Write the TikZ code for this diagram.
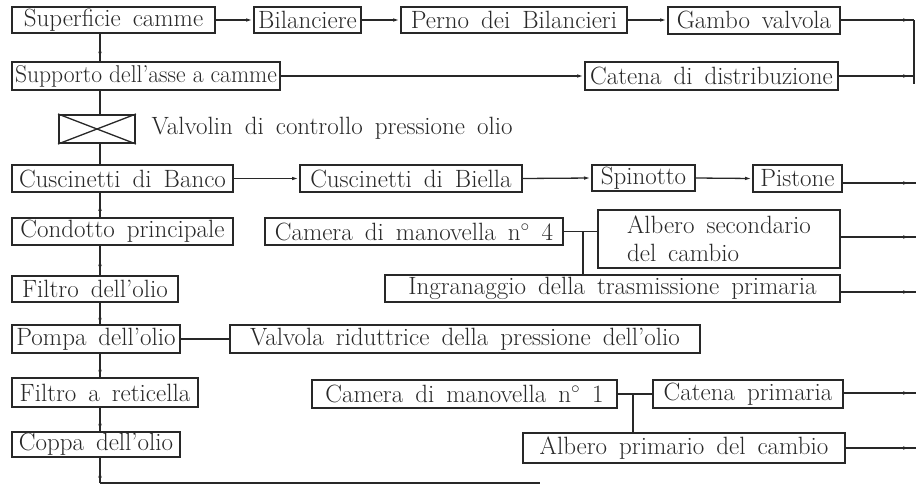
\documentclass[tikz,border=0pt]{standalone}
\usepackage{graphicx}
\usetikzlibrary{arrows.meta,decorations.markings}
\definecolor{ink}{RGB}{40,40,40}
\newcommand\diagfont{\fontsize{25}{28}\selectfont\spaceskip=0.48em plus 0.1em minus 0.1em\relax}
\newsavebox\fitbox
\newcommand\fitw[2]{\sbox\fitbox{#2}%
  \ifdim\wd\fitbox>#1\relax
    \sbox\fitbox{\spaceskip=0.3em\relax#2}%
    \ifdim\wd\fitbox>#1\relax
      \pgfmathsetmacro\fitr{(1+(#1)/\wd\fitbox)/2}%
      \resizebox{#1}{\fitr\height}{\usebox\fitbox}%
    \else\usebox\fitbox\fi
  \else\usebox\fitbox\fi}
\begin{document}
\begin{tikzpicture}[x=1pt,y=-1pt,
  every node/.style={font={\diagfont}, text=ink},
  box/.style={draw=ink, line width=2pt, inner sep=0pt, align=center},
  conn/.style={draw=ink, line width=1.3pt},
  tip/.style={-{Latex[length=7pt,width=3.5pt]}},
  arrowat/.style={postaction={decorate}, decoration={markings, mark=at position #1 with {\arrow{Latex[length=7pt,width=3.5pt]}}}}
]
\useasboundingbox (0,0) rectangle (916,485);

% left column
\node[box, minimum width=203, minimum height=26] (sup) at (113.5,20) {\fitw{195pt}{Superficie camme}};
\node[box, minimum width=268, minimum height=28] (supp) at (146,76) {\fitw{262pt}{Supporto dell'asse a camme}};
\node[draw=ink, line width=2pt, minimum width=76, minimum height=28, inner sep=0pt] (valve) at (97,129) {};
\node[anchor=west] (vlab) at (148,128) {Valvolin di controllo pressione olio};
\node[box, minimum width=221, minimum height=27] (banco) at (122.5,178.5) {\fitw{213pt}{Cuscinetti di Banco}};
\node[box, minimum width=221, minimum height=27] (cond) at (122.5,231.5) {\fitw{213pt}{Condotto principale}};
\node[box, minimum width=166, minimum height=26] (filtro) at (95,289) {\fitw{158pt}{Filtro dell'olio}};
\node[box, minimum width=168, minimum height=28] (pompa) at (96,339) {\fitw{160pt}{Pompa dell'olio}};
\node[box, minimum width=186, minimum height=29] (ret) at (105,392.5) {\fitw{178pt}{Filtro a reticella}};
\node[box, minimum width=168, minimum height=25] (coppa) at (96,444.5) {\fitw{160pt}{Coppa dell'olio}};

% top row
\node[box, minimum width=107, minimum height=26] (bil) at (307.5,20) {\fitw{101pt}{Bilanciere}};
\node[box, minimum width=226, minimum height=26] (perno) at (514,20) {\fitw{218pt}{Perno dei Bilancieri}};
\node[box, minimum width=172, minimum height=27] (gambo) at (754,20) {\fitw{164pt}{Gambo valvola}};
\node[box, minimum width=253, minimum height=28] (catd) at (711.5,76) {\fitw{245pt}{Catena di distribuzione}};

% crank row
\node[box, minimum width=222, minimum height=27] (biella) at (411,178.5) {\fitw{214pt}{Cuscinetti di Biella}};
\node[box, minimum width=103, minimum height=26] (spin) at (643.5,178) {\fitw{96pt}{Spinotto}};
\node[box, minimum width=89, minimum height=27] (pist) at (797.5,178.5) {\fitw{83pt}{Pistone}};

\node[box, minimum width=298, minimum height=27] (cam4) at (414,231.5) {\fitw{290pt}{Camera di manovella n$^\circ$ 4}};
\node[box, minimum width=242, minimum height=58, align=left] (albsec) at (719,239) {Albero secondario\\del cambio};
\node[box, minimum width=455, minimum height=27] (ingr) at (612.5,288.5) {\fitw{445pt}{Ingranaggio della trasmissione primaria}};

\node[box, minimum width=470, minimum height=28] (vrid) at (465,339) {\fitw{460pt}{Valvola riduttrice della pressione dell'olio}};

\node[box, minimum width=305, minimum height=28] (cam1) at (464.5,394) {\fitw{297pt}{Camera di manovella n$^\circ$ 1}};
\node[box, minimum width=190, minimum height=28] (catp) at (748,394) {\fitw{182pt}{Catena primaria}};
\node[box, minimum width=322, minimum height=30] (albp) at (684,448) {\fitw{314pt}{Albero primario del cambio}};

% valve cross
\draw[conn] (valve.north west) -- (valve.south east) (valve.south west) -- (valve.north east);

% coordinates
\coordinate (vx) at (100,0);
\coordinate (bot) at (100,483);
\coordinate (botend) at (540,483);
\coordinate (r0) at (914,20);
\coordinate (r0b) at (914,84);
\coordinate (r1) at (914,76);
\coordinate (r2) at (916,183);
\coordinate (r3) at (916,237);
\coordinate (r4) at (916,292);
\coordinate (r5) at (916,393);
\coordinate (r6) at (916,448);
\coordinate (j4) at (583,231.5);
\coordinate (j1) at (633,394);

% main vertical (flow upward)
\draw[conn] (bot) -- (botend);
\draw[conn, arrowat=0.5] (bot) -- (vx |- coppa.south);
\draw[conn, arrowat=0.55] (vx |- coppa.north) -- (vx |- ret.south);
\draw[conn, arrowat=0.55] (vx |- ret.north) -- (vx |- pompa.south);
\draw[conn, arrowat=0.55] (vx |- pompa.north) -- (vx |- filtro.south);
\draw[conn, arrowat=0.55] (vx |- filtro.north) -- (vx |- cond.south);
\draw[conn, arrowat=0.55] (vx |- cond.north) -- (vx |- banco.south);
\draw[conn] (vx |- banco.north) -- (vx |- valve.south);
\draw[conn] (vx |- valve.north) -- (vx |- supp.south);
\draw[conn, arrowat=0.55] (vx |- supp.north) -- (vx |- sup.south);

% horizontal connectors
\draw[conn, tip] (sup.east) -- (bil.west);
\draw[conn, tip] (bil.east) -- (perno.west);
\draw[conn, tip] (perno.east) -- (gambo.west);
\draw[conn, arrowat=-4pt] (gambo.east) -- (r0);
\draw[conn] (r0) -- (r0b);
\draw[conn, tip] (supp.east) -- (catd.west);
\draw[conn, arrowat=-4pt] (catd.east) -- (r1);

\draw[conn, tip] (banco.east) -- (biella.west);
\draw[conn, tip] (biella.east) -- (spin.west);
\draw[conn, tip] (spin.east) -- (pist.west);
\draw[conn, arrowat=-6pt] (pist.east |- r2) -- (r2);

\draw[conn] (cam4.east) -- (j4) -- (albsec.west |- j4);
\draw[conn] (j4) -- (j4 |- ingr.north);
\draw[conn, arrowat=-6pt] (albsec.east |- r3) -- (r3);
\draw[conn, arrowat=-6pt] (ingr.east |- r4) -- (r4);

\draw[conn] (pompa.east) -- (vrid.west);

\draw[conn] (cam1.east) -- (j1) -- (catp.west);
\draw[conn] (j1) -- (j1 |- albp.north);
\draw[conn, arrowat=-6pt] (catp.east |- r5) -- (r5);
\draw[conn, arrowat=-6pt] (albp.east) -- (r6);
\end{tikzpicture}
\end{document}
